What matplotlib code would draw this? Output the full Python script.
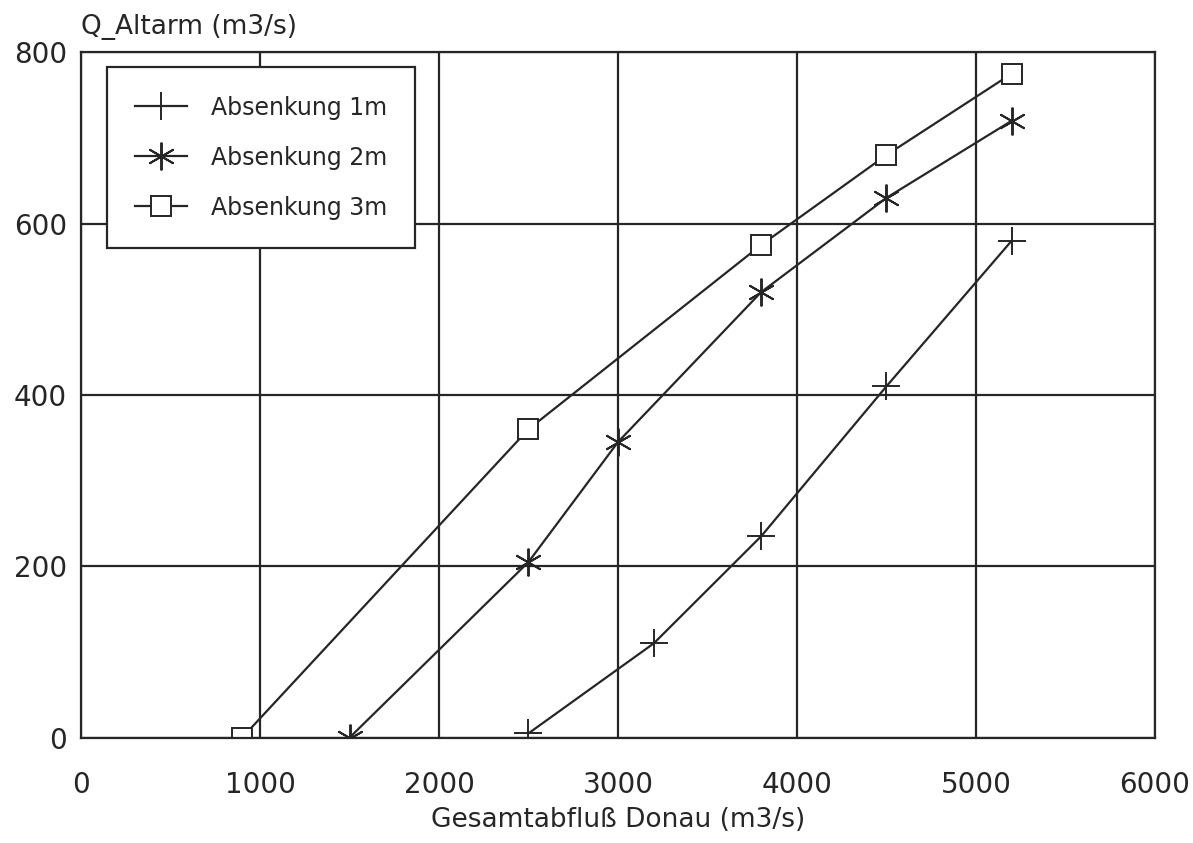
import matplotlib
matplotlib.use("Agg")
import matplotlib.pyplot as plt

# values
x_1m = [2500, 3200, 3800, 4500, 5200]
q_1m = [5, 110, 235, 410, 580]

x_2m = [1500, 2500, 3000, 3800, 4500, 5200]
q_2m = [0, 205, 345, 520, 630, 720]

x_3m = [900, 2500, 3800, 4500, 5200]
q_3m = [0, 360, 575, 680, 775]

labels = ["Absenkung 1m", "Absenkung 2m", "Absenkung 3m"]
x_ticks = [0, 1000, 2000, 3000, 4000, 5000, 6000]
y_ticks = [0, 200, 400, 600, 800]

plt.rcParams["font.family"] = ["DejaVu Sans"]
fig = plt.figure(figsize=(11.93, 8.43), dpi=100)
ax = fig.add_axes([0.068, 0.125, 0.9, 0.813])

ink = "#262626"
ax.plot(x_1m, q_1m, color=ink, lw=1.6, marker="+", ms=20, mew=1.4,
        label=labels[0])
ax.plot(x_2m, q_2m, color=ink, lw=1.6, marker=(6, 2, 0), ms=20, mew=1.4,
        label=labels[1])
ax.plot(x_3m, q_3m, color=ink, lw=1.6, marker="s", ms=15, mew=1.4,
        mfc="white", mec=ink, label=labels[2])

ax.set_xlim(0, 6000)
ax.set_ylim(0, 800)
ax.set_xticks(x_ticks)
ax.set_yticks(y_ticks)
ax.grid(True, color=ink, lw=1.6)
ax.set_axisbelow(True)
for s in ax.spines.values():
    s.set_color(ink)
    s.set_linewidth(1.6)
ax.tick_params(length=0, labelsize=20, colors=ink, pad=10)
ax.tick_params(axis="x", pad=24)

ax.set_xlabel("Gesamtabfluß Donau (m3/s)", fontsize=19, color=ink, labelpad=6)
fig.text(0.068, 0.953, "Q_Altarm (m3/s)", fontsize=19, color=ink,
         ha="left", va="bottom")

leg = ax.legend(loc="upper left", bbox_to_anchor=(0.024, 0.978), fontsize=17,
                frameon=True, fancybox=False, framealpha=1, edgecolor=ink,
                handlelength=2.2, borderpad=1.2, labelspacing=1.1,
                handletextpad=1.0, borderaxespad=0)
leg.get_frame().set_linewidth(1.6)
for t in leg.get_texts():
    t.set_color(ink)

fig.savefig("out.png", dpi=100)
